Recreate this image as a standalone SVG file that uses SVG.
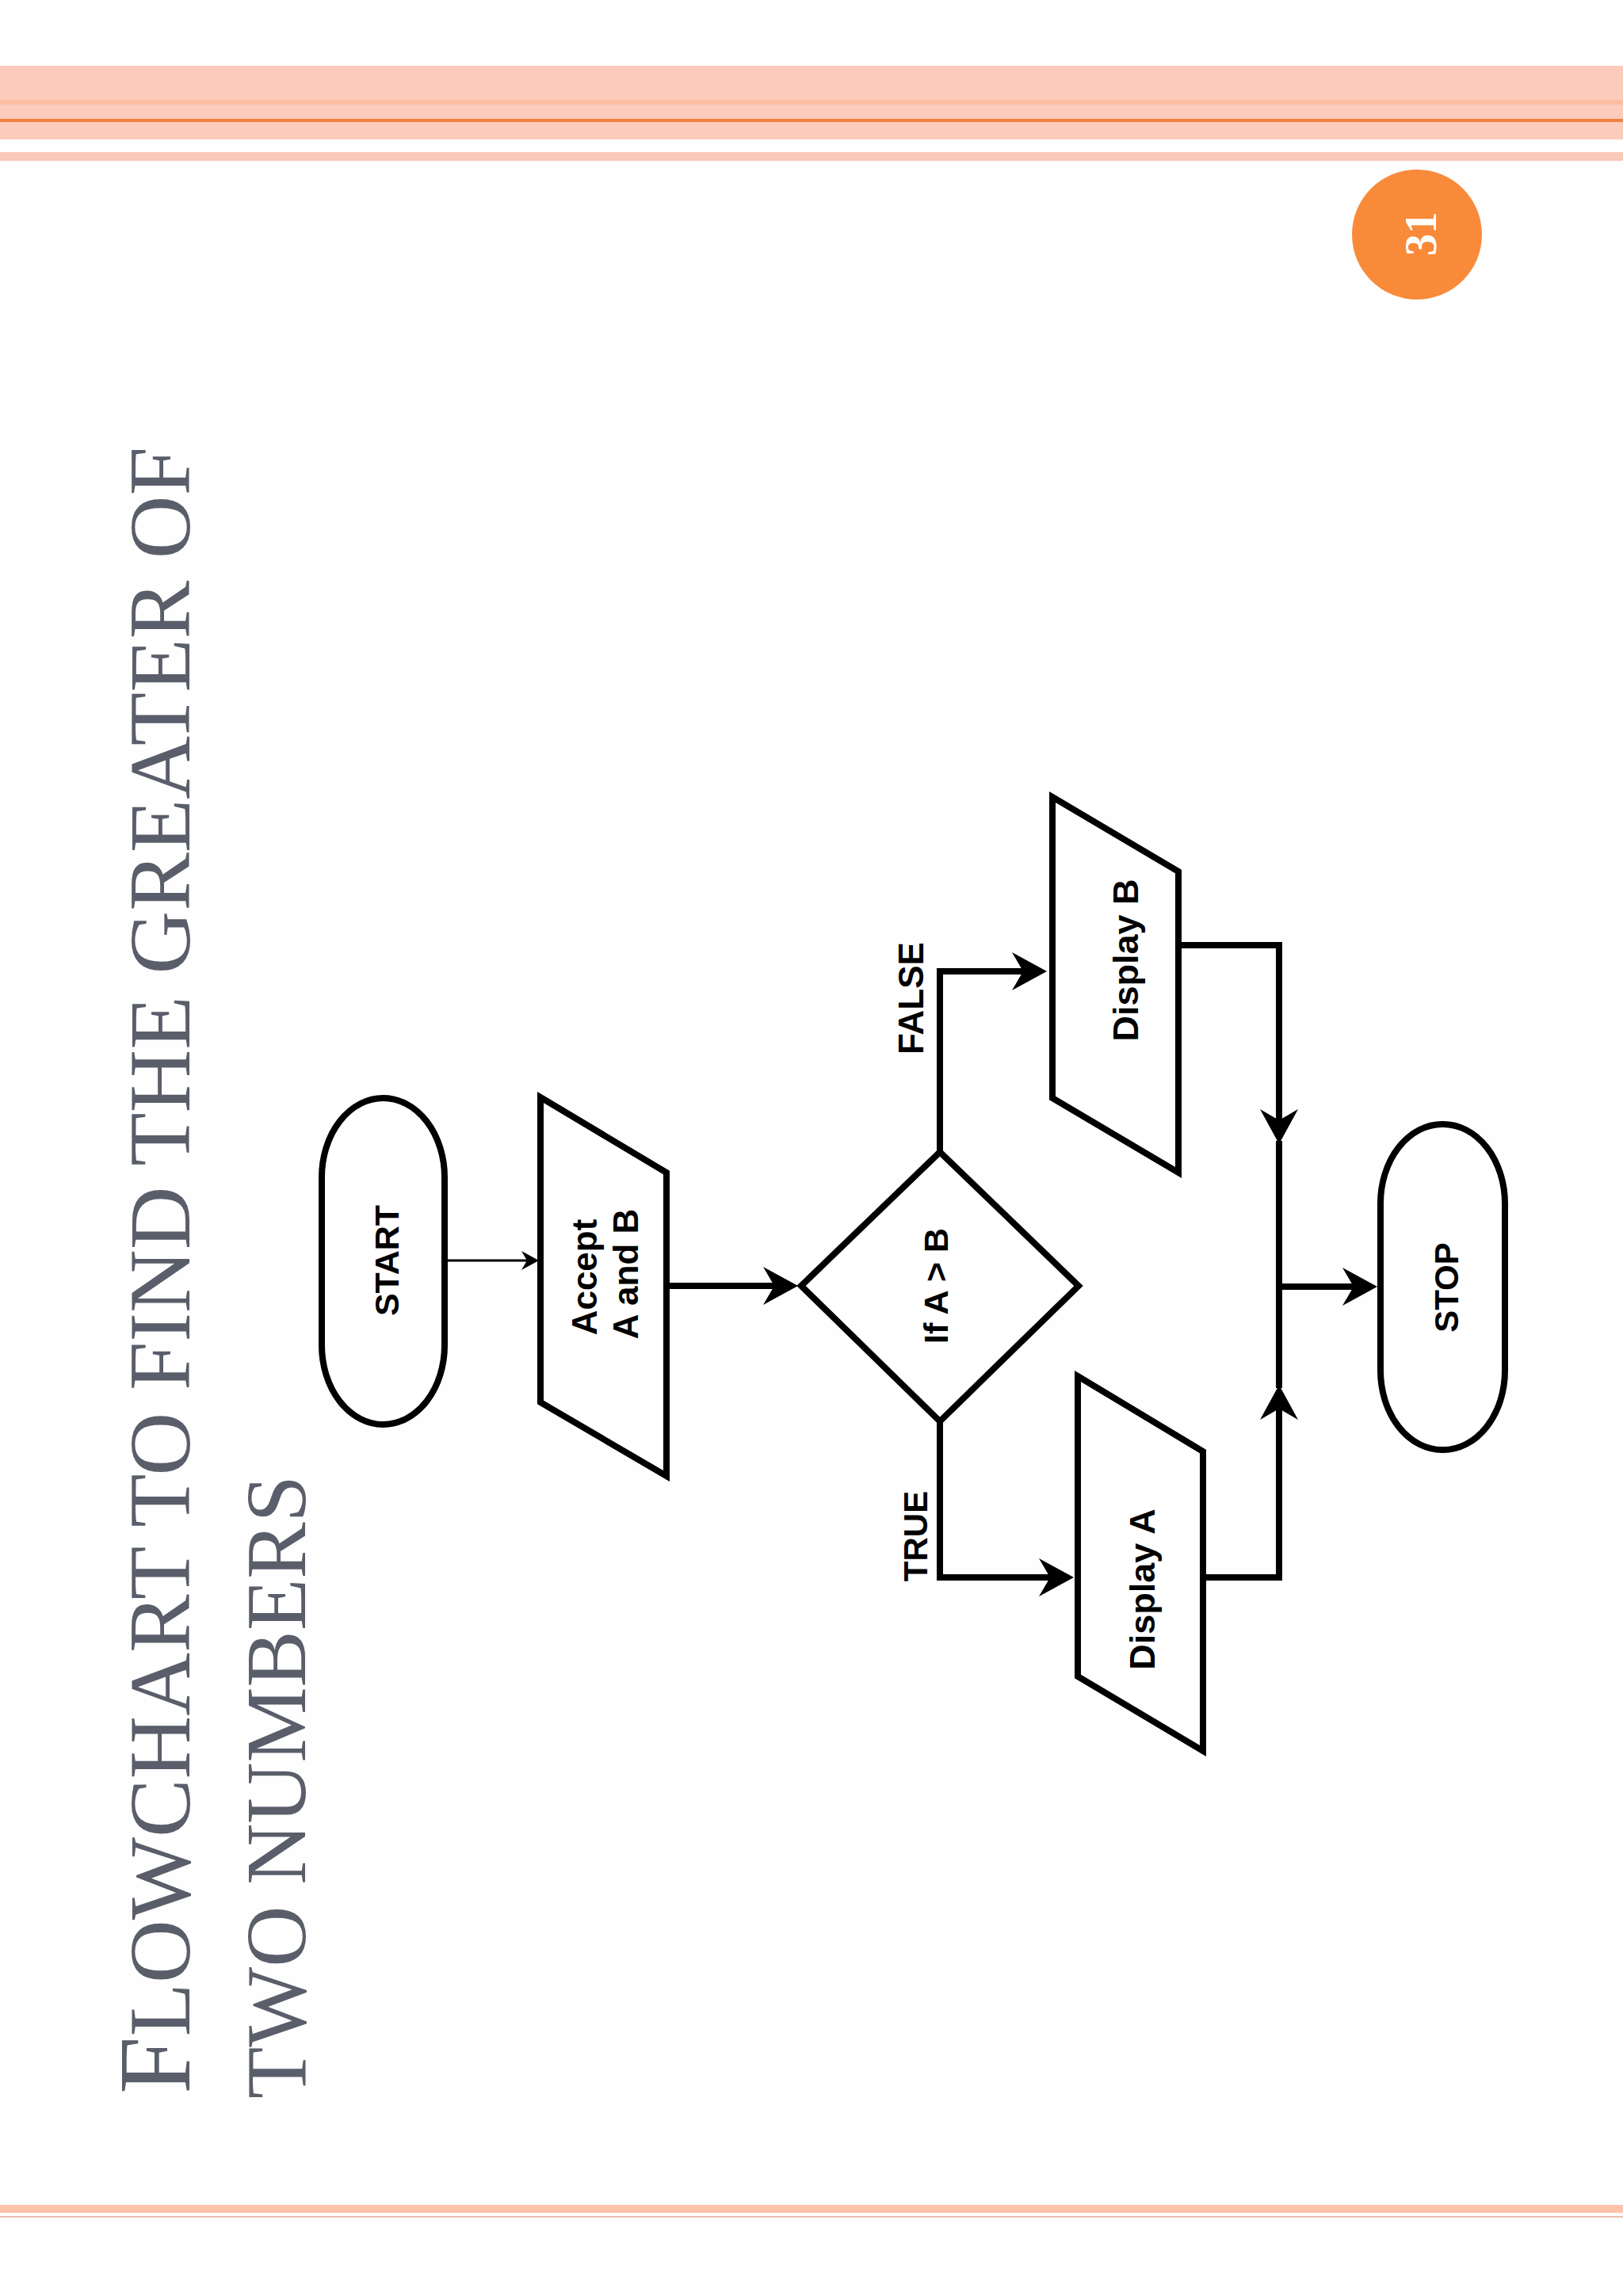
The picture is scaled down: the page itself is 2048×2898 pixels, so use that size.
<svg xmlns="http://www.w3.org/2000/svg" width="2048" height="2898" viewBox="0 0 2048 2898">
<style>
.shape{fill:#ffffff;stroke:#000000;stroke-width:8;stroke-linejoin:miter}
.conn{fill:none;stroke:#000000;stroke-width:8;stroke-linejoin:miter}
.thin{fill:none;stroke:#000000;stroke-width:3}
.lbl{font-family:"Liberation Sans",Arial,sans-serif;font-weight:bold;fill:#000000;text-anchor:middle}
.title{font-family:"Liberation Serif","Times New Roman",serif;fill:#5A5E6A}
</style>
<defs>
<marker id="arr" markerUnits="userSpaceOnUse" viewBox="0 0 44 48" markerWidth="44" markerHeight="48" refX="34" refY="24" orient="auto">
<path d="M0,0 L44,24 L0,48 L14,24 Z" fill="#000000"/>
</marker>
<marker id="arrs" markerUnits="userSpaceOnUse" viewBox="0 0 22 24" markerWidth="22" markerHeight="24" refX="17" refY="12" orient="auto">
<path d="M0,0 L22,12 L0,24 L7,12 Z" fill="#000000"/>
</marker>
</defs>
<rect x="0" y="0" width="2048" height="2898" fill="#FEFEFE"/>
<g id="header">
<rect x="0" y="83" width="2048" height="93" fill="#FCCBBC"/>
<rect x="0" y="126" width="2048" height="6" fill="#FDBDA2"/>
<rect x="0" y="150" width="2048" height="4" fill="#F0803F"/>
<rect x="0" y="192" width="2048" height="11" fill="#F9C8B8"/>
</g>
<g id="footer">
<rect x="0" y="2783" width="2048" height="10" fill="#FDC2AA"/>
<rect x="0" y="2797" width="2048" height="2" fill="#E9BFB0"/>
</g>
<g id="page-number">
<circle cx="1788" cy="296" r="82" fill="#F98A3A"/>
<text transform="translate(1812,295) rotate(-90)" text-anchor="middle" font-family="Liberation Serif,'Times New Roman',serif" font-size="56" font-weight="bold" fill="#FFFFFF">31</text>
</g>
<g id="title">
<text class="title" transform="translate(239,2643) rotate(-90)" textLength="2079" lengthAdjust="spacingAndGlyphs"><tspan font-size="130">F</tspan><tspan font-size="110">LOWCHART TO FIND THE GREATER OF</tspan></text>
<text class="title" transform="translate(385,2649) rotate(-90)" font-size="109" textLength="787" lengthAdjust="spacingAndGlyphs">TWO NUMBERS</text>
</g>
<g id="connectors">
<path class="thin" d="M561,1591 H675" marker-end="url(#arrs)"/>
<path class="conn" d="M845,1623 H997" marker-end="url(#arr)"/>
<path class="conn" d="M1186,1454 V1226 H1311" marker-end="url(#arr)"/>
<path class="conn" d="M1186,1794 V1991 H1345" marker-end="url(#arr)"/>
<path class="conn" d="M1487,1193 H1614 V1434" marker-end="url(#arr)"/>
<path class="conn" d="M1518,1991 H1614 V1758" marker-end="url(#arr)"/>
<path class="conn" d="M1614,1440 V1752"/>
<path class="conn" d="M1614,1624 H1728" marker-end="url(#arr)"/>
<text class="lbl" transform="translate(1165,1260) rotate(-90)" font-size="44">FALSE</text>
<text class="lbl" transform="translate(1170,1939) rotate(-90)" font-size="42">TRUE</text>
</g>
<g id="start">
<rect class="shape" x="406" y="1386" width="155" height="412" rx="78" ry="100"/>
<text class="lbl" transform="translate(503,1591) rotate(-90)" font-size="43">START</text>
</g>
<g id="accept">
<polygon class="shape" points="682,1385 841,1480 841,1863 682,1770"/>
<text class="lbl" transform="translate(753,1612) rotate(-90)" font-size="44">Accept</text>
<text class="lbl" transform="translate(805,1608) rotate(-90)" font-size="44">A and B</text>
</g>
<g id="decision">
<polygon class="shape" points="1011,1623 1186,1454 1361,1623 1186,1794"/>
<text class="lbl" transform="translate(1196,1623) rotate(-90)" font-size="43">If A &gt; B</text>
</g>
<g id="display-b">
<polygon class="shape" points="1328,1006 1487,1100 1487,1480 1328,1386"/>
<text class="lbl" transform="translate(1436,1212) rotate(-90)" font-size="45">Display B</text>
</g>
<g id="display-a">
<polygon class="shape" points="1360,1737 1518,1832 1518,2210 1360,2116"/>
<text class="lbl" transform="translate(1457,2006) rotate(-90)" font-size="45">Display A</text>
</g>
<g id="stop">
<rect class="shape" x="1742" y="1419" width="157" height="411" rx="78" ry="100"/>
<text class="lbl" transform="translate(1840,1625) rotate(-90)" font-size="42">STOP</text>
</g>
</svg>
